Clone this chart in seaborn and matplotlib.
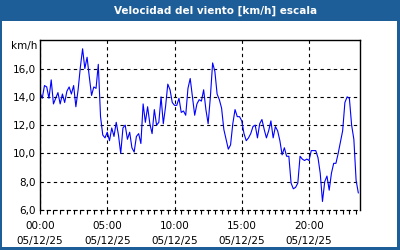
import matplotlib
matplotlib.use("Agg")
import matplotlib.pyplot as plt
import matplotlib.patches as mpatches
import seaborn as sns
import pandas as pd
import numpy as np

# ---- data (10-minute samples from 00:00) ----
wind_kmh = [
    14.3, 13.9, 14.8, 14.7, 13.9, 15.2,
    13.5, 13.9, 14.3, 13.5, 14.2, 13.6,
    14.4, 14.7, 14.2, 14.8, 13.3, 14.5,
    16.1, 17.4, 16.0, 16.8, 15.4, 14.1,
    14.7, 14.6, 16.3, 12.6, 11.3, 11.1,
    11.5, 10.9, 11.8, 11.2, 12.2, 11.3,
    10.0, 11.8, 12.0, 11.0, 11.5, 10.4,
    10.1, 11.2, 11.4, 10.7, 13.5, 12.2,
    13.3, 12.1, 11.4, 13.1, 12.0, 12.2,
    14.0, 12.1, 13.3, 14.9, 14.5, 13.6,
    13.4, 13.4, 13.9, 12.9, 13.0, 12.7,
    14.6, 15.3, 14.0, 12.7, 13.5, 13.8,
    13.7, 14.5, 13.1, 12.1, 14.0, 16.4,
    15.8, 14.2, 13.8, 13.2, 11.7, 11.0,
    10.3, 10.6, 12.1, 13.1, 12.6, 12.6,
    12.3, 11.4, 10.9, 11.1, 11.4, 11.9,
    12.0, 11.1, 12.1, 12.4, 11.7, 11.1,
    11.6, 12.3, 11.1, 11.9, 11.6, 10.9,
    9.9, 10.4, 9.8, 9.8, 7.9, 7.5,
    7.6, 7.9, 9.8, 9.6, 9.5, 9.6,
    9.5, 10.2, 10.2, 10.2, 9.7, 8.6,
    6.6, 8.0, 8.4, 7.4, 8.6, 9.3,
    9.3, 10.0, 10.8, 11.6, 13.6, 14.0,
    13.9, 12.0, 11.0, 8.1, 7.2,
]
hours = [i / 6.0 for i in range(len(wind_kmh))]
x_tick_hours = [0, 5, 10, 15, 20]
x_tick_labels = ["00:00\n05/12/25", "05:00\n05/12/25", "10:00\n05/12/25",
                 "15:00\n05/12/25", "20:00\n05/12/25"]
y_ticks = [6, 8, 10, 12, 14, 16]
y_tick_labels = ["6,0", "8,0", "10,0", "12,0", "14,0", "16,0"]
title = "Velocidad del viento [km/h] escala"
unit = "km/h"

df = pd.DataFrame({"h": hours, "v": wind_kmh})

sns.set_style("white")
plt.rcParams["font.family"] = ["DejaVu Sans"]

W, H = 400, 250
fig = plt.figure(figsize=(W / 100, H / 100), dpi=100)
blue = "#1d5e98"
fig.patch.set_facecolor(blue)
# inner white panel
fig.patches.append(mpatches.Rectangle((2 / W, 3 / H), 395 / W, 226 / H,
                                      transform=fig.transFigure,
                                      facecolor="white", edgecolor="none", zorder=-10))
fig.text(216 / W, 1 - 10.5 / H, title, color="white", fontsize=7.5,
         fontweight="bold", ha="center", va="center")

ax = fig.add_axes([40 / W, 40 / H, 320 / W, 170 / H])
ax.set_zorder(5)
ax.set_facecolor("white")
sns.lineplot(data=df, x="h", y="v", ax=ax, color="#0000ff", linewidth=0.8)

ax.set_xlim(0, 23.79)
ax.set_ylim(6, 18.02)
ax.set_xticks(x_tick_hours)
ax.set_xticklabels(x_tick_labels)
ax.set_xticks(np.arange(0, 23.8, 0.5), minor=True)
ax.set_yticks(y_ticks)
ax.set_yticklabels(y_tick_labels)
ax.set_xlabel("")
ax.set_ylabel("")

ax.grid(True, which="major", color="black", linestyle=(0, (3, 3)), linewidth=0.8)
for s in ["left", "top", "right"]:
    ax.spines[s].set_visible(True)
    ax.spines[s].set_color("black")
    ax.spines[s].set_linewidth(1.0)
ax.spines["bottom"].set_visible(True)
ax.spines["bottom"].set_color("black")
ax.spines["bottom"].set_linewidth(0.8)
ax.spines["bottom"].set_linestyle((0, (3, 3)))

ax.tick_params(axis="x", which="both", direction="out", length=3, width=0.8,
               color="black", labelcolor="black", labelsize=7.5, pad=5, bottom=True)
ax.tick_params(axis="y", which="both", length=0, labelsize=7.5, labelcolor="black",
               pad=3, left=True)
for lbl in ax.get_xticklabels():
    lbl.set_linespacing(1.6)

fig.text(24 / W, 1 - 46.5 / H, unit, fontsize=7.5, ha="center", va="center",
         color="black")

fig.savefig("out.png", dpi=100, facecolor=fig.get_facecolor())
